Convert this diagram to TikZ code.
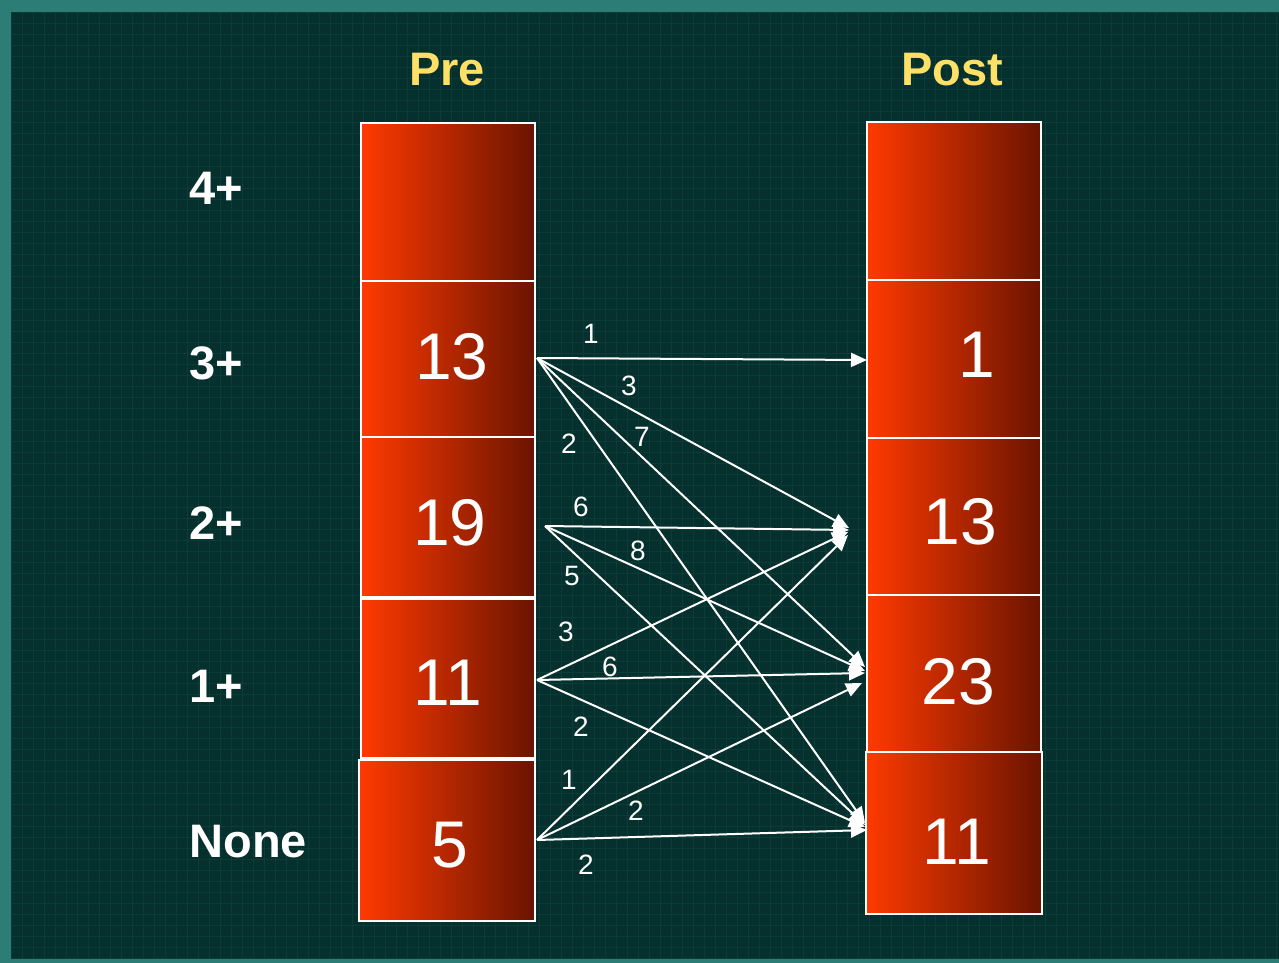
\documentclass[tikz,border=0pt]{standalone}
\usepackage{fontspec}
\setmainfont{Liberation Sans}
\usetikzlibrary{arrows.meta}
\definecolor{frame}{HTML}{2B7D76}
\definecolor{slate}{HTML}{06302D}
\definecolor{gridln}{HTML}{0B3C38}
\definecolor{hot}{HTML}{FF3A00}
\definecolor{ember}{HTML}{6A1400}
\definecolor{gold}{HTML}{FFE066}
\tikzset{
  cell/.style={draw=white, line width=2pt, left color=hot, right color=ember, inner sep=0pt},
  head/.style={text=gold, font=\bfseries\fontsize{47}{47}\selectfont},
  level/.style={text=white, font=\bfseries\fontsize{47}{47}\selectfont, anchor=west},
  count/.style={text=white, font=\fontsize{66}{66}\selectfont},
  flow/.style={draw=white, line width=2pt, -{Triangle[length=16pt, width=14pt]}},
  qty/.style={text=white, font=\fontsize{28}{28}\selectfont}
}
\begin{document}
\begin{tikzpicture}[x=1pt, y=-1pt]
% backdrop with its frame and fine grid texture
\fill[frame] (0,0) rectangle (1279,963);
\fill[slate] (11,12) rectangle (1279,959);
\begin{scope}
\clip (11,12) rectangle (1279,959);
\foreach \g in {0,...,116} {
  \draw[gridln, line width=0.7pt] (11+\g*11,12) -- (11+\g*11,959);
}
\foreach \g in {0,...,86} {
  \draw[gridln, line width=0.7pt] (11,12+\g*11) -- (1279,12+\g*11);
}
\end{scope}
\useasboundingbox (0,0) rectangle (1279,963);

% column headings
\node[head] (hpre) at (447,70) {Pre};
\node[head] (hpost) at (952,70) {Post};

% row headings
\node[level] (l4) at (186,188) {4+};
\node[level] (l3) at (186,363) {3+};
\node[level] (l2) at (186,523) {2+};
\node[level] (l1) at (186,686) {1+};
\node[level] (l0) at (186,842) {None};

% Pre column
\node[cell, minimum width=174pt, minimum height=158pt] (pre4) at (448,202) {};
\node[cell, minimum width=174pt, minimum height=156pt] (pre3) at (448,359) {};
\node[cell, minimum width=174pt, minimum height=160pt] (pre2) at (448,517) {};
\node[cell, minimum width=174pt, minimum height=159pt] (pre1) at (448,678.5) {};
\node[cell, minimum width=176pt, minimum height=161pt] (pre0) at (447,840.5) {};

% Post column
\node[cell, minimum width=174pt, minimum height=158pt] (post4) at (954,201) {};
\node[cell, minimum width=174pt, minimum height=158pt] (post3) at (954,359) {};
\node[cell, minimum width=174pt, minimum height=157pt] (post2) at (954,516.5) {};
\node[cell, minimum width=174pt, minimum height=157pt] (post1) at (954,673.5) {};
\node[cell, minimum width=176pt, minimum height=162pt] (post0) at (953.5,833) {};

% counts
\node[count] (npre3) at (452,357) {13};
\node[count] (npre2) at (450,523) {19};
\node[count] (npre1) at (448,683) {11};
\node[count] (npre0) at (450,845) {5};
\node[count] (npost3) at (977,355) {1};
\node[count] (npost2) at (960,522) {13};
\node[count] (npost1) at (958,682) {23};
\node[count] (npost0) at (957,842) {11};

% arrow ends
\coordinate (s3) at (537,358);
\coordinate (s2) at (545,526);
\coordinate (s1) at (537,680);
\coordinate (s0) at (537,840);
\coordinate (t3) at (867,360);
\coordinate (t2a) at (849,528);
\coordinate (t2b) at (849,530);
\coordinate (t2c) at (848,532);
\coordinate (t2d) at (848,535);
\coordinate (t1a) at (865,667);
\coordinate (t1b) at (865,671);
\coordinate (t1c) at (865,673);
\coordinate (t1d) at (862,683);
\coordinate (t0a) at (865,823);
\coordinate (t0b) at (865,825);
\coordinate (t0c) at (865,827);
\coordinate (t0d) at (867,830);

% transitions
\draw[flow] (s3) -- (t3);
\draw[flow] (s3) -- (t2a);
\draw[flow] (s3) -- (t1a);
\draw[flow] (s3) -- (t0a);
\draw[flow] (s2) -- (t2b);
\draw[flow] (s2) -- (t1b);
\draw[flow] (s2) -- (t0b);
\draw[flow] (s1) -- (t2c);
\draw[flow] (s1) -- (t1c);
\draw[flow] (s1) -- (t0c);
\draw[flow] (s0) -- (t2d);
\draw[flow] (s0) -- (t1d);
\draw[flow] (s0) -- (t0d);

% transition counts
\node[qty] (q31) at (591,334) {1};
\node[qty] (q32) at (629,386) {3};
\node[qty] (q30) at (569,444) {2};
\node[qty] (q3b) at (642,437) {7};
\node[qty] (q22) at (581,507) {6};
\node[qty] (q21) at (638,551) {8};
\node[qty] (q20) at (572,576) {5};
\node[qty] (q12) at (566,632) {3};
\node[qty] (q11) at (610,667) {6};
\node[qty] (q10) at (581,727) {2};
\node[qty] (q02) at (569,780) {1};
\node[qty] (q01) at (636,811) {2};
\node[qty] (q00) at (586,865) {2};
\end{tikzpicture}
\end{document}
